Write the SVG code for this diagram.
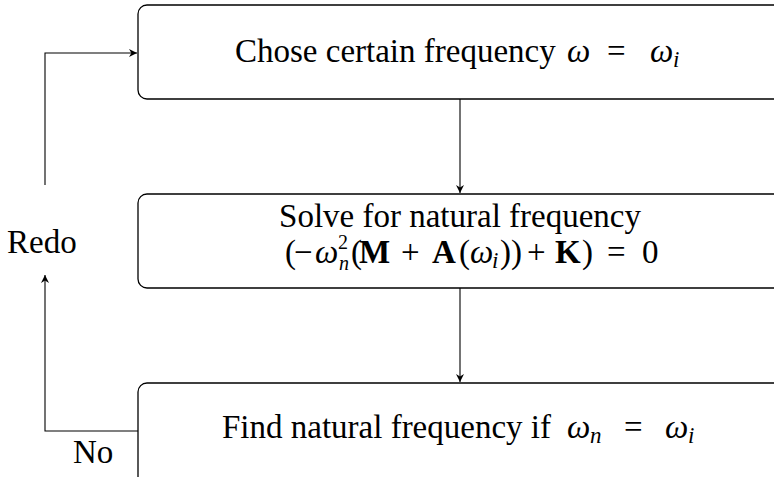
<svg xmlns="http://www.w3.org/2000/svg" width="774" height="477" viewBox="0 0 774 477">
<style>
.box{fill:#fff;stroke:#000;stroke-width:1.3}
.t{font-family:"Liberation Serif","DejaVu Serif",serif;font-size:33px;fill:#000}
.i{font-style:italic}
.b{font-weight:bold}
.s{font-size:23px}
.ss{font-size:20px}
.edge{fill:none;stroke:#000;stroke-width:1.1}
</style>
<defs>
<marker id="ah" viewBox="0 0 10 10" refX="10" refY="5" markerWidth="8" markerHeight="8" markerUnits="userSpaceOnUse" orient="auto">
<path d="M0,0 L10,5 L0,10 L3,5 z" fill="#000"/>
</marker>
</defs>
<g id="connectors">
<line class="edge" x1="460" y1="99" x2="460" y2="193" marker-end="url(#ah)"/>
<line class="edge" x1="460" y1="288" x2="460" y2="382" marker-end="url(#ah)"/>
<polyline class="edge" points="138,431 45,431 45,275" marker-end="url(#ah)"/>
<polyline class="edge" points="45,185 45,53 137,53" marker-end="url(#ah)"/>
<text class="t" x="7" y="253">Redo</text>
<text class="t" x="73" y="463">No</text>
</g>
<g id="node1">
<rect class="box" x="138" y="5" width="700" height="94" rx="9"/>
<text class="t" x="235" y="62">Chose certain frequency<tspan class="i" x="567">ω</tspan><tspan x="607">=</tspan><tspan class="i" x="650">ω</tspan><tspan class="i s" x="673" dy="5">i</tspan></text>
</g>
<g id="node2">
<rect class="box" x="138" y="194" width="700" height="94" rx="9"/>
<text class="t" x="460" y="227" text-anchor="middle">Solve for natural frequency</text>
<text class="t" x="285" y="263">(<tspan x="294">−</tspan><tspan class="i" x="315">ω</tspan><tspan class="ss" x="338" dy="-14">2</tspan><tspan class="i ss" x="339" dy="21">n</tspan><tspan x="351" dy="-7">(</tspan><tspan class="b" x="359">M</tspan><tspan x="401">+</tspan><tspan class="b" x="432">A</tspan><tspan x="459">(</tspan><tspan class="i" x="470">ω</tspan><tspan class="i s" x="492" dy="5">i</tspan><tspan x="500" dy="-5">))</tspan><tspan x="527">+</tspan><tspan class="b" x="555">K</tspan><tspan x="582">)</tspan><tspan x="607">=</tspan><tspan x="642">0</tspan></text>
</g>
<g id="node3">
<rect class="box" x="138" y="383" width="700" height="110" rx="9"/>
<text class="t" x="222" y="438">Find natural frequency if<tspan class="i" x="567">ω</tspan><tspan class="i s" x="590" dy="5">n</tspan><tspan x="624" dy="-5">=</tspan><tspan class="i" x="665">ω</tspan><tspan class="i s" x="688" dy="5">i</tspan></text>
</g>
</svg>
